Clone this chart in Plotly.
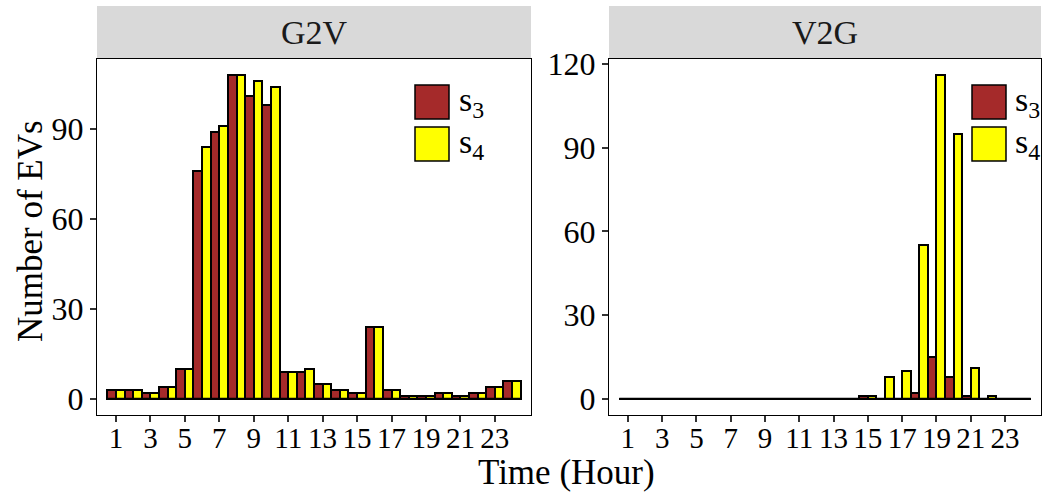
import plotly.graph_objects as go

hours = list(range(1, 25))
g2v_s3 = [3, 3, 2, 4, 10, 76, 89, 108, 101, 98, 9, 9, 5, 3, 2, 24, 3, 1, 1, 2, 1, 2, 4, 6]
g2v_s4 = [3, 3, 2, 4, 10, 84, 91, 108, 106, 104, 9, 10, 5, 3, 2, 24, 3, 1, 1, 2, 1, 2, 4, 6]
v2g_s3 = [0]*14 + [1, 0, 0, 2, 15, 8, 1, 0, 0, 0]
v2g_s4 = [0]*14 + [1, 8, 10, 55, 116, 95, 11, 1, 0, 0]
panels = ["G2V", "V2G"]
series_names = ["s<sub>3</sub>", "s<sub>4</sub>"]
colors = ["#A52A2A", "#FFFF00"]
x_ticks = list(range(1, 25, 2))
y_ticks_left = [0, 30, 60, 90]
y_ticks_right = [0, 30, 60, 90, 120]

W, H = 1043, 495
FONT = "Liberation Serif"

fig = go.Figure()
for (s3, s4, xa, ya) in [(g2v_s3, g2v_s4, "x", "y"), (v2g_s3, v2g_s4, "x2", "y2")]:
    for vals, col in zip([s3, s4], colors):
        fig.add_trace(go.Bar(x=hours, y=vals, xaxis=xa, yaxis=ya,
                             marker=dict(color=col, line=dict(color="black", width=2)),
                             showlegend=False))

# panel geometry in pixels
px_left = (97, 531)
px_right = (609, 1041)
py_top, py_bot = 59, 415
strip_top = 6

def fx(p):
    return p / W

def fy(p):
    return (H - p) / H

ydom = [fy(py_bot), fy(py_top)]

def yrange(a, b):
    m = max(max(a), max(b))
    return [-0.05 * m, 1.05 * m]

xrange = [hours[0] - 0.5 - 0.6, hours[-1] + 0.5 + 0.6]

base = dict(showgrid=False, zeroline=False, showline=True, mirror=True,
            linecolor="black", linewidth=1, ticks="outside", ticklen=6,
            tickwidth=2, tickcolor="#333333")
xaxis_common = dict(base, tickfont=dict(family=FONT, size=29, color="black"),
                    ticklabelstandoff=-9)
yaxis_common = dict(base, tickfont=dict(family=FONT, size=32, color="black"))

fig.update_layout(
    width=W, height=H, margin=dict(l=0, r=0, t=0, b=0, autoexpand=False),
    paper_bgcolor="white", plot_bgcolor="white",
    barmode="group", bargap=0, bargroupgap=0,
    showlegend=False,
    font=dict(family=FONT, color="black"),
    xaxis=dict(domain=[fx(px_left[0]), fx(px_left[1])], range=xrange,
               tickvals=x_ticks, anchor="y", **xaxis_common),
    yaxis=dict(domain=ydom, range=yrange(g2v_s3, g2v_s4), tickvals=y_ticks_left,
               anchor="x", **yaxis_common),
    xaxis2=dict(domain=[fx(px_right[0]), fx(px_right[1])], range=xrange,
                tickvals=x_ticks, anchor="y2", **xaxis_common),
    yaxis2=dict(domain=ydom, range=yrange(v2g_s3, v2g_s4), tickvals=y_ticks_right,
                anchor="x2", **yaxis_common),
)

shapes = []
annotations = []
for i, (xa, ya, name) in enumerate([("x", "y", panels[0]), ("x2", "y2", panels[1])]):
    # strip
    shapes.append(dict(type="rect", xref=f"{xa} domain", yref="paper",
                       x0=0, x1=1, y0=fy(py_top), y1=fy(strip_top),
                       fillcolor="#D9D9D9", line=dict(width=0), layer="below"))
    annotations.append(dict(text=name, xref=f"{xa} domain", yref="paper",
                            x=0.5, y=(fy(py_top) + fy(strip_top)) / 2,
                            showarrow=False, font=dict(family=FONT, size=34, color="#1A1A1A"),
                            xanchor="center", yanchor="middle"))
    # zero-height bar outlines (baseline)
    shapes.append(dict(type="line", xref=xa, yref=ya,
                       x0=hours[0] - 0.5, x1=hours[-1] + 0.5, y0=0, y1=0,
                       line=dict(color="black", width=2), layer="above"))

# manual legends
legend_pos = {
    "x": (415, 449, 457),
    "x2": (972, 1006, 1013),
}
key_rows = [(85, 119), (127, 161)]
for xa, (pl, pr, tx) in legend_pos.items():
    x0p, x1p = (px_left if xa == "x" else px_right)
    w = x1p - x0p
    for (yt, yb), col, nm in zip(key_rows, colors, series_names):
        shapes.append(dict(type="rect", xref=f"{xa} domain", yref="paper",
                           x0=(pl - x0p) / w, x1=(pr - x0p) / w, y0=fy(yb), y1=fy(yt),
                           fillcolor=col, line=dict(color="black", width=1.5)))
        annotations.append(dict(text=nm, xref=f"{xa} domain", yref="paper",
                                x=(tx - x0p) / w, y=fy((yt + yb) / 2), showarrow=False,
                                xanchor="left", yanchor="middle",
                                font=dict(family=FONT, size=34, color="black")))

# axis titles
annotations.append(dict(text="Number of EVs", xref="paper", yref="paper",
                        x=fx(30), y=fy(231), textangle=-90, showarrow=False,
                        xanchor="center", yanchor="middle",
                        font=dict(family=FONT, size=35, color="black")))
annotations.append(dict(text="Time (Hour)", xref="paper", yref="paper",
                        x=fx(566), y=fy(472), showarrow=False,
                        xanchor="center", yanchor="middle",
                        font=dict(family=FONT, size=35, color="black")))

fig.update_layout(shapes=shapes, annotations=annotations)
fig.write_html("out.html")
